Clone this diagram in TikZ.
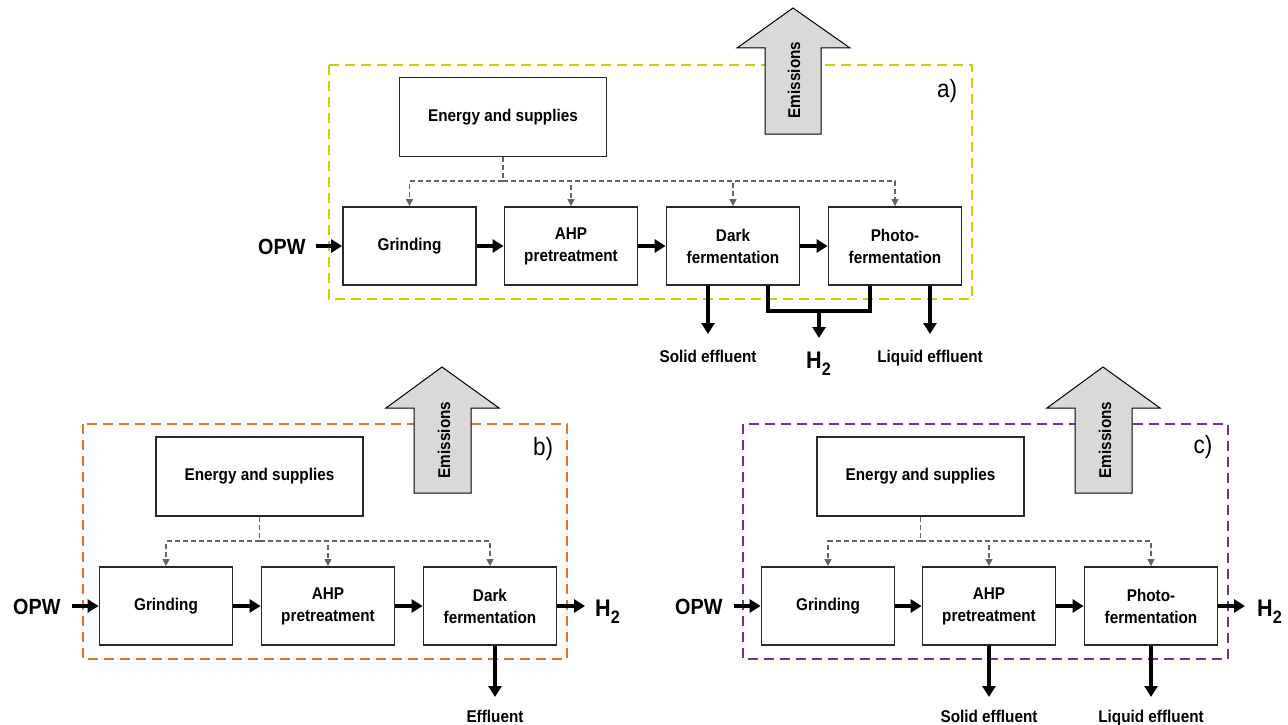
\documentclass[tikz,border=0pt]{standalone}
\usepackage{fontspec}
\setmainfont{Liberation Sans}[FakeStretch=0.9]
\usetikzlibrary{arrows.meta}
\definecolor{frameA}{RGB}{204,204,0}
\definecolor{frameB}{RGB}{240,110,30}
\definecolor{frameC}{RGB}{112,48,160}
\definecolor{supgray}{RGB}{100,100,100}
\definecolor{boxline}{RGB}{40,40,40}
\definecolor{emgray}{RGB}{217,217,217}
\newcommand\lblfont{\fontsize{17}{22}\selectfont\bfseries}
\newcommand\bigfont{\fontsize{22}{26}\selectfont\bfseries}
\newcommand\tagfont{\fontsize{25}{28}\selectfont}
\newcommand\hydro{{\fontsize{24}{26}\selectfont H}\raisebox{-7pt}{\fontsize{18}{18}\selectfont 2}}
\begin{document}
\begin{tikzpicture}[x=1pt,y=-1pt,
  procbox/.style={draw=boxline, line width=1.8pt, fill=white, minimum width=133pt, minimum height=78pt, align=center, font=\lblfont, inner sep=0pt},
  supbox/.style={procbox, minimum width=207pt, minimum height=79pt},
  flow/.style={line width=3.8pt, -{Triangle[length=11pt,width=13pt]}},
  flowline/.style={line width=3.8pt},
  supply/.style={draw=supgray, line width=1.2pt, dash pattern=on 5pt off 3pt, -{Triangle[length=7pt,width=7pt]}},
  supline/.style={draw=supgray, line width=1.2pt, dash pattern=on 5pt off 3pt},
  frame/.style={line width=2pt, dash pattern=on 10pt off 6pt},
  emis/.style={draw=black, line width=1pt, fill=emgray},
  lbl/.style={font=\lblfont, inner sep=0pt},
  big/.style={font=\bigfont, inner sep=0pt},
  tag/.style={font=\tagfont, inner sep=0pt}]
\useasboundingbox (0,0) rectangle (1288,725);

% ================= panel a =================
\draw[frame, draw=frameA] (329,65) rectangle (972,299);
\draw[emis] (765,134) -- (765,48) -- (737,48) -- (793,8) -- (850,48) -- (821,48) -- (821,134) -- cycle;
\node[lbl, rotate=90] (emA) at (794,80) {Emissions};
\node[tag] (tagA) at (947,91) {a)};
\node[supbox] (Ea) at (503,117) {Energy and supplies};
\node[procbox] (Ga) at (409.5,246) {Grinding};
\node[procbox] (Aa) at (571,246) {AHP\\pretreatment};
\node[procbox] (Da) at (733,246) {Dark\\fermentation};
\node[procbox] (Pa) at (895,246) {Photo-\\fermentation};
\coordinate (ja) at (503,181);
\draw[supline] (Ea.south) -- (ja);
\draw[supply] (ja) -| (Ga.north);
\draw[supply] (ja) -| (Aa.north);
\draw[supply] (ja) -| (Da.north);
\draw[supply] (ja) -| (Pa.north);
\node[big, anchor=base west] (opwA) at (258,254) {OPW};
\coordinate (oa) at (316,246);
\draw[flow] (oa) -- (Ga.west);
\draw[flow] (Ga.east) -- (Aa.west);
\draw[flow] (Aa.east) -- (Da.west);
\draw[flow] (Da.east) -- (Pa.west);
\coordinate (hja) at (819,311);
\draw[flowline] ([xshift=35pt]Da.south) |- (hja) -| ([xshift=-25pt]Pa.south);
\coordinate (h2a) at (819,338);
\draw[flow] (hja) -- (h2a);
\node[big, anchor=base west] (H2a) at (806,368) {\hydro};
\coordinate (sea) at (708,334);
\coordinate (lea) at (930,334);
\draw[flow] ([xshift=-25pt]Da.south) -- (sea);
\draw[flow] ([xshift=35pt]Pa.south) -- (lea);
\node[lbl, anchor=base] (SEa) at (708,362) {Solid effluent};
\node[lbl, anchor=base] (LEa) at (930,362) {Liquid effluent};

% ================= panel b =================
\draw[frame, draw=frameB] (83,424) rectangle (567,659);
\draw[emis] (414,493) -- (414,408) -- (386,408) -- (442,367) -- (499,408) -- (471,408) -- (471,493) -- cycle;
\node[lbl, rotate=90] (emB) at (444,440) {Emissions};
\node[tag] (tagB) at (543,449) {b)};
\node[supbox] (Eb) at (259.5,476.5) {Energy and supplies};
\node[procbox] (Gb) at (166,606) {Grinding};
\node[procbox] (Ab) at (328,606) {AHP\\pretreatment};
\node[procbox] (Db) at (490,606) {Dark\\fermentation};
\coordinate (jb) at (259.5,541);
\draw[supline] (Eb.south) -- (jb);
\draw[supply] (jb) -| (Gb.north);
\draw[supply] (jb) -| (Ab.north);
\draw[supply] (jb) -| (Db.north);
\node[big, anchor=base west] (opwB) at (13,614) {OPW};
\coordinate (ob) at (72,606);
\draw[flow] (ob) -- (Gb.west);
\draw[flow] (Gb.east) -- (Ab.west);
\draw[flow] (Ab.east) -- (Db.west);
\coordinate (hb) at (585,606);
\draw[flow] (Db.east) -- (hb);
\node[big, anchor=base west] (H2b) at (595,616) {\hydro};
\coordinate (eb) at (495,697);
\draw[flow] ([xshift=5pt]Db.south) -- (eb);
\node[lbl, anchor=base] (EFb) at (495,722) {Effluent};

% ================= panel c =================
\draw[frame, draw=frameC] (743,424) rectangle (1228,659);
\draw[emis] (1075,493) -- (1075,408) -- (1047,408) -- (1103,367) -- (1160,408) -- (1132,408) -- (1132,493) -- cycle;
\node[lbl, rotate=90] (emC) at (1105,440) {Emissions};
\node[tag] (tagC) at (1203,447) {c)};
\node[supbox] (Ec) at (920.5,476.5) {Energy and supplies};
\node[procbox] (Gc) at (828,606) {Grinding};
\node[procbox] (Ac) at (989,606) {AHP\\pretreatment};
\node[procbox] (Pc) at (1151,606) {Photo-\\fermentation};
\coordinate (jc) at (920.5,541);
\draw[supline] (Ec.south) -- (jc);
\draw[supply] (jc) -| (Gc.north);
\draw[supply] (jc) -| (Ac.north);
\draw[supply] (jc) -| (Pc.north);
\node[big, anchor=base west] (opwC) at (675,614) {OPW};
\coordinate (oc) at (734,606);
\draw[flow] (oc) -- (Gc.west);
\draw[flow] (Gc.east) -- (Ac.west);
\draw[flow] (Ac.east) -- (Pc.west);
\coordinate (hc) at (1245,606);
\draw[flow] (Pc.east) -- (hc);
\node[big, anchor=base west] (H2c) at (1257,616) {\hydro};
\coordinate (sec) at (989,697);
\coordinate (lec) at (1151,697);
\draw[flow] (Ac.south) -- (sec);
\draw[flow] (Pc.south) -- (lec);
\node[lbl, anchor=base] (SEc) at (989,722) {Solid effluent};
\node[lbl, anchor=base] (LEc) at (1151,722) {Liquid effluent};
\end{tikzpicture}
\end{document}
